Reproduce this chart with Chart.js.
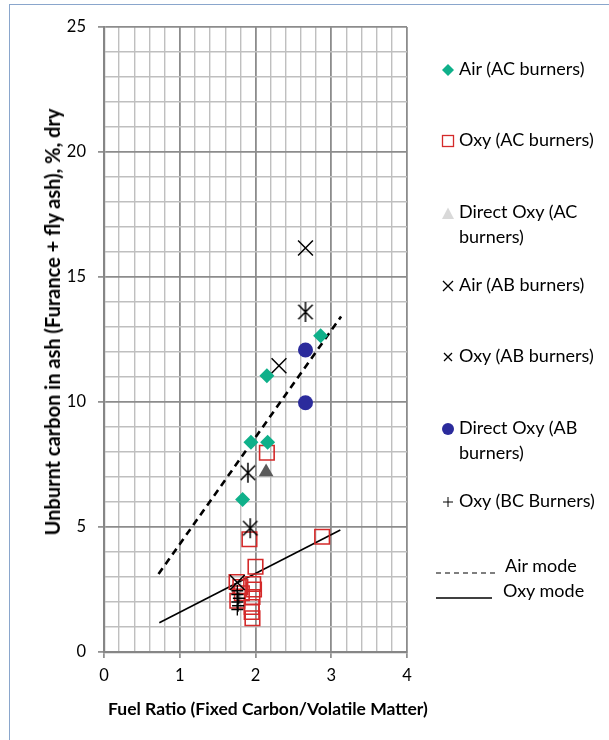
<!DOCTYPE html>
<html>
<head>
<meta charset="utf-8">
<script src="https://cdn.jsdelivr.net/npm/chart.js@4.4.1/dist/chart.umd.min.js"></script>
<style>
  html, body { margin: 0; padding: 0; background: #fff; }
  #wrap { position: relative; width: 609px; height: 740px; overflow: hidden; font-family: Lato, "Open Sans", sans-serif; }
  #frame { position: absolute; left: 9px; top: 4px; width: 700px; height: 800px; border-left: 1px solid #8aa6cc; border-top: 1px solid #8aa6cc; }
  canvas { position: absolute; left: 0; top: 0; }
  .lg { position: absolute; font-size: 18px; color: #000; line-height: 25px; white-space: nowrap; }
  .mk { position: absolute; }
  .ttl { position: absolute; font-weight: bold; color: #000; white-space: nowrap; line-height: 24px; }
  #xt { font-size: 17.5px; left: 108px; top: 697px; }
  #yt { font-size: 20px; left: 52px; top: 321.5px; transform: translate(-50%, -50%) rotate(-90deg); }
</style>
</head>
<body>
<div id="wrap">
  <div id="frame"></div>
  <canvas id="c" width="609" height="740"></canvas>
  <div id="xt" class="ttl"></div>
  <div id="yt" class="ttl"></div>
  <div id="legend"></div>
</div>
<script>
// ---------------- DATA ----------------
const seriesNames = [
  "Air (AC burners)",
  "Oxy (AC burners)",
  "Direct Oxy (AC burners)",
  "Air (AB burners)",
  "Oxy (AB burners)",
  "Direct Oxy (AB burners)",
  "Oxy (BC Burners)"
];
const airACx = [2.86, 2.15, 1.94, 2.16, 1.83];
const airACy = [12.65, 11.05, 8.39, 8.39, 6.1];

const oxyACx = [2.15, 1.92, 2.88, 2.00, 1.75, 1.97, 1.98, 1.82, 1.76, 1.96, 1.95, 1.95, 1.96, 1.80];
const oxyACy = [7.97, 4.51, 4.61, 3.41, 2.80, 2.72, 2.50, 2.35, 2.05, 2.20, 1.80, 1.60, 1.35, 2.60];

const directOxyACx = [2.14];
const directOxyACy = [7.2];

const airABx = [2.66, 2.31, 1.76];
const airABy = [16.16, 11.45, 2.78];

const oxyABx = [2.66, 1.90, 1.93];
const oxyABy = [13.6, 7.17, 4.95];

const directOxyABx = [2.66, 2.66];
const directOxyABy = [12.08, 9.97];

const oxyBCx = [1.76, 1.76, 1.78, 1.76, 1.77, 1.76];
const oxyBCy = [2.45, 2.30, 2.15, 2.00, 1.85, 1.70];

const trendNames = ["Air mode", "Oxy mode"];
const airTrendX = [0.72, 3.13];
const airTrendY = [3.12, 13.42];
const oxyTrendX = [0.73, 3.12];
const oxyTrendY = [1.17, 4.88];

const xTickLabels = ["0", "1", "2", "3", "4"];
const yTickLabels = ["0", "5", "10", "15", "20", "25"];
const xTitle = "Fuel Ratio (Fixed Carbon/Volatile Matter)";
const yTitle = "Unburnt carbon in ash (Furance + fly ash), %, dry";

// ---------------- HELPERS ----------------
function pts(xs, ys) { return xs.map((x, i) => ({ x: x, y: ys[i] })); }
function asteriskImg(size, color, lw) {
  const c = document.createElement('canvas');
  c.width = size; c.height = size;
  const g = c.getContext('2d');
  const m = size / 2, d = (size / 2 - 1) * 0.72, r = size / 2 - 1;
  g.strokeStyle = color; g.lineWidth = lw; g.lineCap = 'butt';
  g.beginPath();
  g.moveTo(m - d, m - d); g.lineTo(m + d, m + d);
  g.moveTo(m + d, m - d); g.lineTo(m - d, m + d);
  g.moveTo(m, m - r); g.lineTo(m, m + r);
  g.stroke();
  return c;
}
const isInt = v => Math.abs(v - Math.round(v)) < 1e-6;
const isMult5 = v => Math.abs(v / 5 - Math.round(v / 5)) < 1e-6;

const GREEN = '#0fb08a', RED = '#d42a2a', DGRAY = '#5a5a5a', NAVY = '#2b2b9c';

document.getElementById('xt').textContent = xTitle;
document.getElementById('yt').textContent = yTitle;

// ---------------- CHART ----------------
new Chart(document.getElementById('c'), {
  type: 'scatter',
  data: {
    datasets: [
      { label: seriesNames[0], data: pts(airACx, airACy), pointStyle: 'rectRot', radius: 7.5, backgroundColor: GREEN, borderColor: GREEN, borderWidth: 0 },
      { label: seriesNames[2], data: pts(directOxyACx, directOxyACy), pointStyle: 'triangle', radius: 8.5, backgroundColor: DGRAY, borderColor: DGRAY, borderWidth: 0 },
      { label: seriesNames[5], data: pts(directOxyABx, directOxyABy), pointStyle: 'circle', radius: 7.5, backgroundColor: NAVY, borderColor: NAVY, borderWidth: 0 },
      { label: seriesNames[3], data: pts(airABx, airABy), pointStyle: 'crossRot', radius: 10.5, borderColor: '#000', borderWidth: 1.5 },
      { label: seriesNames[4], data: pts(oxyABx, oxyABy), pointStyle: asteriskImg(22, '#000', 1.5), radius: 11, borderColor: '#000' },
      { label: seriesNames[6], data: pts(oxyBCx, oxyBCy), pointStyle: 'cross', radius: 6, borderColor: '#000', borderWidth: 1.3 },
      { label: seriesNames[1], data: pts(oxyACx, oxyACy), pointStyle: 'rect', radius: 10.3, backgroundColor: 'rgba(0,0,0,0)', borderColor: RED, borderWidth: 1.6 },
      { label: trendNames[0], type: 'line', data: pts(airTrendX, airTrendY), showLine: true, pointRadius: 0, borderColor: '#000', borderWidth: 2.6, borderDash: [7, 5], fill: false },
      { label: trendNames[1], type: 'line', data: pts(oxyTrendX, oxyTrendY), showLine: true, pointRadius: 0, borderColor: '#000', borderWidth: 1.6, fill: false }
    ]
  },
  options: {
    responsive: false,
    animation: false,
    devicePixelRatio: 1,
    layout: { padding: { left: 0, right: 202, top: 27, bottom: 0 } },
    plugins: { legend: { display: false }, tooltip: { enabled: false } },
    scales: {
      x: {
        type: 'linear', min: 0, max: 4,
        afterFit: s => { s.height = 88; },
        ticks: {
          stepSize: 0.2, autoSkip: false, maxRotation: 0, padding: 8,
          color: '#000', font: { family: 'Lato', size: 16.5 },
          callback: v => isInt(v) ? xTickLabels[Math.round(v)] : ''
        },
        grid: {
          color: c => isInt(c.tick.value) ? '#8c8c8c' : '#bfbfbf',
          lineWidth: c => isInt(c.tick.value) ? 1.8 : 1.4,
          tickColor: c => isInt(c.tick.value) ? '#868686' : 'rgba(0,0,0,0)',
          tickLength: 6, tickWidth: 1.6
        },
        border: { color: '#868686', width: 2.2 },
        title: { display: false }
      },
      y: {
        type: 'linear', min: 0, max: 25,
        afterFit: s => { s.width = 104; },
        ticks: {
          stepSize: 1, autoSkip: false, padding: 12,
          color: '#000', font: { family: 'Lato', size: 16.5 },
          callback: v => isMult5(v) ? yTickLabels[Math.round(v / 5)] : ''
        },
        grid: {
          color: c => isMult5(c.tick.value) ? '#8c8c8c' : '#bfbfbf',
          lineWidth: c => isMult5(c.tick.value) ? 1.8 : 1.4,
          tickColor: c => isMult5(c.tick.value) ? '#868686' : 'rgba(0,0,0,0)',
          tickLength: 6, tickWidth: 1.6
        },
        border: { color: '#868686', width: 2.2 },
        title: { display: false }
      }
    }
  }
});

// ---------------- LEGEND (HTML) ----------------
const legendItems = [
  { lines: ["Air (AC burners)"], y: 68, mk: `<svg width="14" height="14"><polygon points="7,1 13,7 7,13 1,7" fill="${GREEN}"/></svg>` },
  { lines: ["Oxy (AC burners)"], y: 139, mk: `<svg width="14" height="14"><rect x="1.5" y="1.5" width="11" height="11" fill="none" stroke="${RED}" stroke-width="1.3"/></svg>` },
  { lines: ["Direct Oxy (AC", "burners)"], y: 211, mk: `<svg width="14" height="14"><polygon points="7,1.5 13,13 1,13" fill="#d9d9d9"/></svg>` },
  { lines: ["Air (AB burners)"], y: 284, mk: `<svg width="14" height="14"><path d="M2,2 L12,12 M12,2 L2,12" stroke="#000" stroke-width="1.3"/></svg>` },
  { lines: ["Oxy (AB burners)"], y: 355, mk: `<svg width="14" height="14"><path d="M3,3 L11,11 M11,3 L3,11" stroke="#000" stroke-width="1.3"/></svg>` },
  { lines: ["Direct Oxy (AB", "burners)"], y: 427, mk: `<svg width="14" height="14"><circle cx="7" cy="7" r="6" fill="${NAVY}"/></svg>` },
  { lines: ["Oxy (BC Burners)"], y: 500, mk: `<svg width="14" height="14"><path d="M7,2 L7,12 M2,7 L12,7" stroke="#000" stroke-width="1"/></svg>` }
];
const lg = document.getElementById('legend');
let html = '';
legendItems.forEach(it => {
  html += `<div class="mk" style="left:441px;top:${it.y - 7}px;width:14px;height:14px">${it.mk}</div>`;
  it.lines.forEach((t, k) => {
    html += `<div class="lg" style="left:459px;top:${it.y - 12.5 + k * 25}px">${t}</div>`;
  });
});
html += `<div class="mk" style="left:436px;top:561px"><svg width="64" height="8"><line x1="0" y1="4" x2="62" y2="4" stroke="#000" stroke-width="1.2" stroke-dasharray="5,4"/></svg></div>`;
html += `<div class="lg" style="left:505px;top:${565 - 12.5}px">${trendNames[0]}</div>`;
html += `<div class="mk" style="left:436px;top:586px"><svg width="60" height="8"><line x1="0" y1="4" x2="56" y2="4" stroke="#000" stroke-width="1.6"/></svg></div>`;
html += `<div class="lg" style="left:503px;top:${590 - 12.5}px">${trendNames[1]}</div>`;
lg.innerHTML = html;
</script>
</body>
</html>
